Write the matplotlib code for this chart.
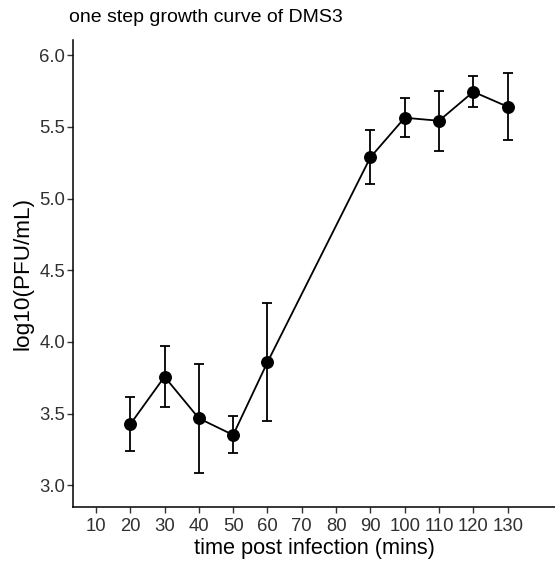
import matplotlib
matplotlib.use("Agg")
import matplotlib.pyplot as plt

plt.rcParams['font.family'] = ['Liberation Sans', 'DejaVu Sans']

time = [20, 30, 40, 50, 60, 90, 100, 110, 120, 130]
log_pfu = [3.426, 3.758, 3.468, 3.352, 3.859, 5.287, 5.563, 5.542, 5.744, 5.640]
err_upper = [3.615, 3.972, 3.845, 3.484, 4.274, 5.475, 5.700, 5.751, 5.854, 5.877]
err_lower = [3.240, 3.545, 3.089, 3.224, 3.447, 5.099, 5.429, 5.333, 5.636, 5.408]
x_ticks = [10, 20, 30, 40, 50, 60, 70, 80, 90, 100, 110, 120, 130]
y_ticks = [3.0, 3.5, 4.0, 4.5, 5.0, 5.5, 6.0]

fig = plt.figure(figsize=(5.55, 5.61), dpi=100)
ax = fig.add_axes([0.132, 0.0963, 0.868, 0.8324])

yerr = [[v - lo for v, lo in zip(log_pfu, err_lower)],
        [hi - v for v, hi in zip(log_pfu, err_upper)]]
ax.errorbar(time, log_pfu, yerr=yerr, fmt='none', ecolor='black',
            elinewidth=1.3, capsize=3.5, capthick=1.3, zorder=2)
ax.plot(time, log_pfu, color='black', linewidth=1.3, zorder=3)
ax.plot(time, log_pfu, 'o', color='black', markersize=8.3, zorder=4)

ax.set_xlim(3.4, 143.8)
ax.set_ylim(2.85, 6.105)
ax.set_xticks(x_ticks)
ax.set_xticklabels([str(t) for t in x_ticks])
ax.set_yticks(y_ticks)
ax.set_yticklabels([f"{t:.1f}" for t in y_ticks])

for s in ['top', 'right']:
    ax.spines[s].set_visible(False)
for s in ['left', 'bottom']:
    ax.spines[s].set_linewidth(1.1)
    ax.spines[s].set_color('black')

ax.tick_params(axis='both', direction='out', length=4, width=1.0, color='#333333',
               labelsize=13.3, labelcolor='#303030', pad=2)
ax.tick_params(axis='x', pad=4)

ax.set_xlabel('time post infection (mins)', fontsize=15.7, labelpad=2)
ax.set_ylabel('log10(PFU/mL)', fontsize=16.2, labelpad=4)
fig.text(69 / 555, 1 - 17 / 561, 'one step growth curve of DMS3', fontsize=14,
         ha='left', va='center')

fig.savefig('out.png', dpi=100)
